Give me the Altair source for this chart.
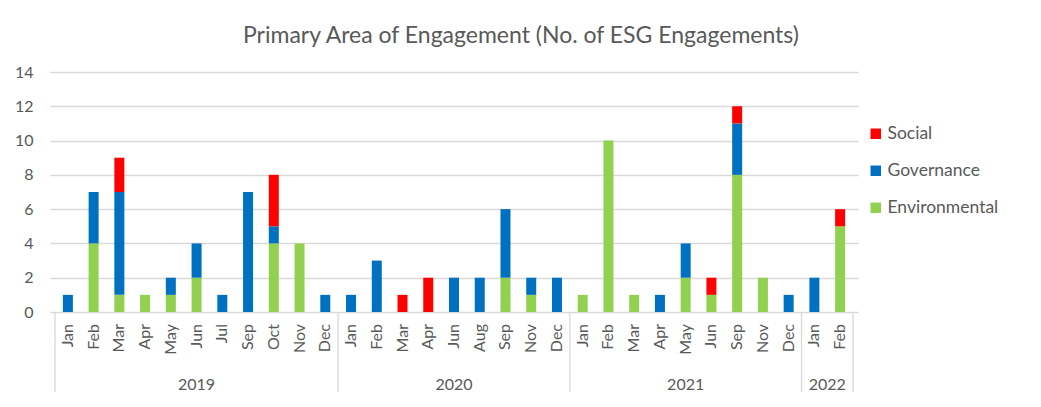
import altair as alt
import pandas as pd

# ---- data ----
years = ["2019", "2020", "2021", "2022"]
months_2019 = ["Jan", "Feb", "Mar", "Apr", "May", "Jun", "Jul", "Sep", "Oct", "Nov", "Dec"]
months_2020 = ["Jan", "Feb", "Mar", "Apr", "Jun", "Aug", "Sep", "Nov", "Dec"]
months_2021 = ["Jan", "Feb", "Mar", "Apr", "May", "Jun", "Sep", "Nov", "Dec"]
months_2022 = ["Jan", "Feb"]

environmental = [0, 4, 1, 1, 1, 2, 0, 0, 4, 4, 0,
                 0, 0, 0, 0, 0, 0, 2, 1, 0,
                 1, 10, 1, 0, 2, 1, 8, 2, 0,
                 0, 5]
governance = [1, 3, 6, 0, 1, 2, 1, 7, 1, 0, 1,
              1, 3, 0, 0, 2, 2, 4, 1, 2,
              0, 0, 0, 1, 2, 0, 3, 0, 1,
              2, 0]
social = [0, 0, 2, 0, 0, 0, 0, 0, 3, 0, 0,
          0, 0, 1, 2, 0, 0, 0, 0, 0,
          0, 0, 0, 0, 0, 1, 1, 0, 0,
          0, 1]

series_names = ["Social", "Governance", "Environmental"]
series_colors = ["#FF0000", "#0070C0", "#92D050"]

# ---- build tables ----
month_groups = [months_2019, months_2020, months_2021, months_2022]
cats = []
for y, ms in zip(years, month_groups):
    for m in ms:
        cats.append((y, m))
n = len(cats)

rows = []
for i, (y, m) in enumerate(cats):
    for name, vals, order in [("Environmental", environmental, 0),
                              ("Governance", governance, 1),
                              ("Social", social, 2)]:
        if vals[i] > 0:
            rows.append({"pos": i + 0.5, "year": y, "month": m,
                         "series": name, "value": vals[i], "ord": order})
bars_df = pd.DataFrame(rows)

labels_df = pd.DataFrame([{"pos": i + 0.5, "month": m} for i, (y, m) in enumerate(cats)])

year_rows, bounds = [], [0]
start = 0
for y, ms in zip(years, month_groups):
    end = start + len(ms)
    year_rows.append({"center": (start + end) / 2, "year": y})
    bounds.append(end)
    start = end
years_df = pd.DataFrame(year_rows)
bounds_df = pd.DataFrame({"b": bounds})

W, H = 808, 240
FONT = "Lato"
GREY = "#595959"

xscale = alt.Scale(domain=[0, n], nice=False, zero=False)

bars = alt.Chart(bars_df).mark_bar(size=10).encode(
    x=alt.X("pos:Q", scale=xscale, axis=None),
    y=alt.Y("value:Q", stack="zero",
            scale=alt.Scale(domain=[0, 14], nice=False),
            axis=alt.Axis(values=list(range(0, 15, 2)), title=None, domain=False,
                          ticks=False, labelPadding=17, labelFontSize=16,
                          labelColor=GREY, labelFont=FONT, gridColor="#d9d9d9",
                          gridWidth=1.3)),
    color=alt.Color("series:N",
                    scale=alt.Scale(domain=series_names, range=series_colors),
                    legend=alt.Legend(title=None, orient="none", legendX=817, legendY=53,
                                      symbolType="square", symbolSize=110,
                                      symbolStrokeWidth=0, labelFontSize=17.5,
                                      labelFont=FONT, labelColor=GREY,
                                      rowPadding=18, labelOffset=3)),
    order=alt.Order("ord:Q"),
)

month_labels = alt.Chart(labels_df).mark_text(
    angle=270, align="right", baseline="middle", fontSize=16, font=FONT, color=GREY
).encode(
    x=alt.X("pos:Q", scale=xscale),
    y=alt.value(H + 12),
    text="month:N",
)

year_labels = alt.Chart(years_df).mark_text(
    align="center", baseline="middle", fontSize=16, font=FONT, color=GREY
).encode(
    x=alt.X("center:Q", scale=xscale),
    y=alt.value(H + 73),
    text="year:N",
)

separators = alt.Chart(bounds_df).mark_rule(color="#d9d9d9", strokeWidth=1.3).encode(
    x=alt.X("b:Q", scale=xscale),
    y=alt.value(H),
    y2=alt.value(H + 88),
)

chart = alt.layer(bars, separators, month_labels, year_labels).properties(
    width=W, height=H,
    autosize=alt.AutoSizeParams(type="none"),
    padding={"left": 42, "top": 64, "right": 175, "bottom": 80},
    title=alt.TitleParams("Primary Area of Engagement (No. of ESG Engagements)",
                          anchor="middle", dx=67, dy=32, offset=30, baseline="alphabetic",
                          fontSize=23, font=FONT, fontWeight="normal", color=GREY),
).configure_view(stroke=None)

chart.save("out.html", embed_options={"renderer": "svg", "actions": False})
